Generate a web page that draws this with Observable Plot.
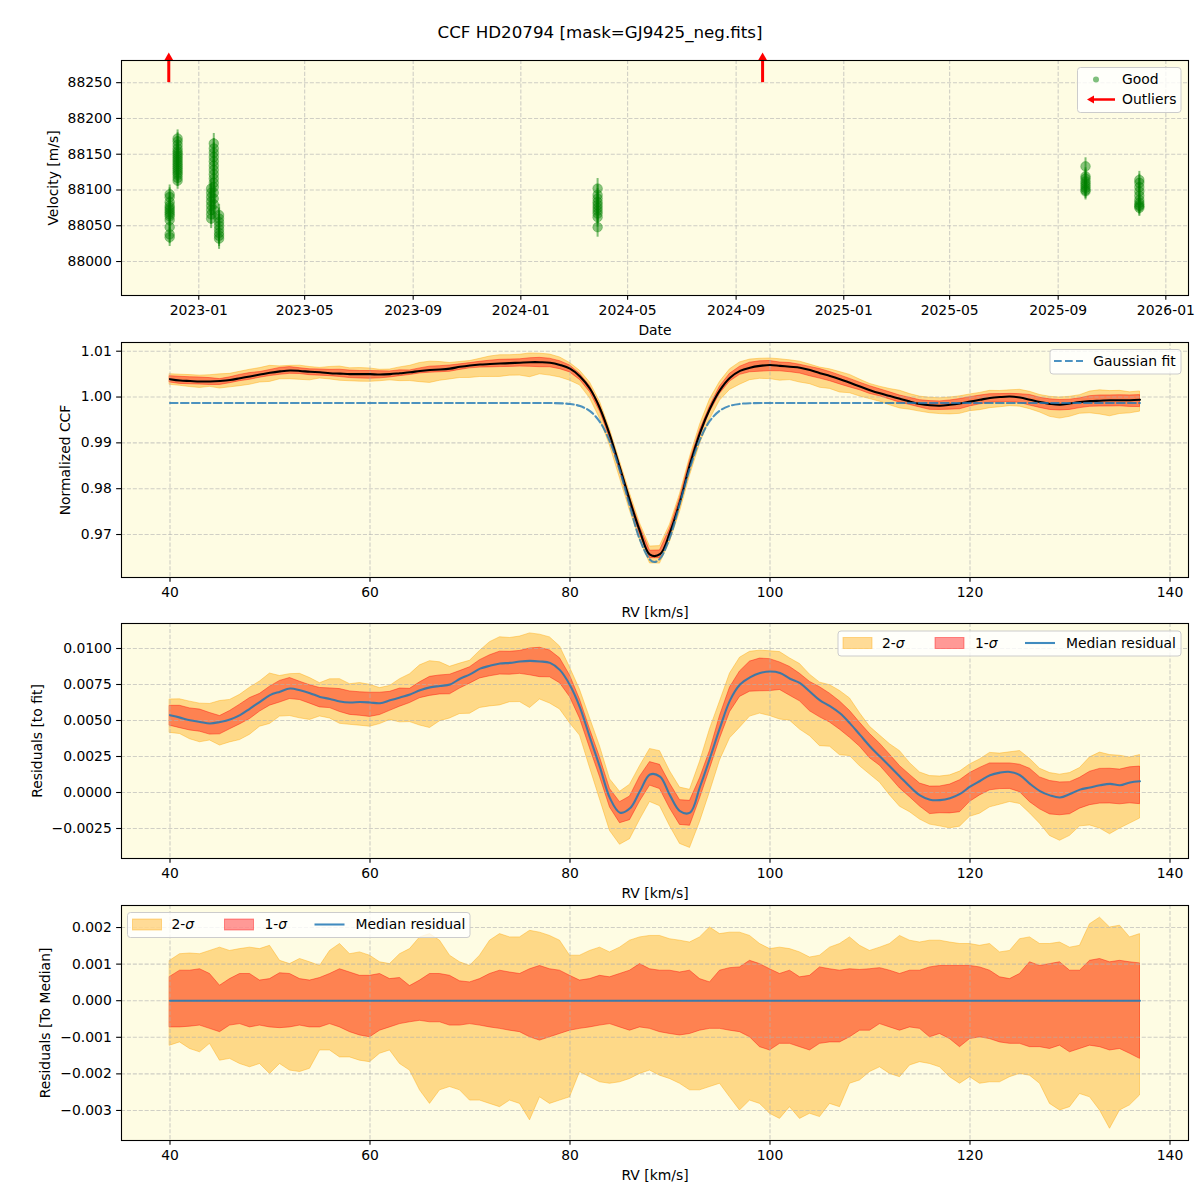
<!DOCTYPE html>
<html>
<head>
<meta charset="utf-8">
<script src="https://cdn.jsdelivr.net/npm/d3@7"></script>
<script src="https://cdn.jsdelivr.net/npm/@observablehq/plot@0.6"></script>
<style>
  body { margin: 0; background: #fff; font-family: "DejaVu Sans", sans-serif; }
  #fig { position: relative; width: 1200px; height: 1200px; overflow: hidden; }
  #fig svg { position: absolute; left: 0; }
</style>
</head>
<body>
<div id="fig"></div>
<script>
// ---------- Velocity time series ----------
const epochDates = ["2022-11-29", "2022-12-08", "2023-01-15", "2023-01-18", "2023-01-24", "2024-03-28", "2025-10-02", "2025-12-02"];
const epochVelocities = [
  [88034, 88038, 88048, 88058, 88063, 88066, 88069, 88072, 88075, 88078, 88083, 88090, 88094],
  [88113, 88117, 88121, 88124, 88127, 88130, 88133, 88136, 88139, 88142, 88145, 88148, 88151, 88154, 88158, 88163, 88168, 88172],
  [88060, 88066, 88072, 88078, 88084, 88090, 88096, 88102],
  [88072, 88080, 88088, 88096, 88104, 88110, 88116, 88122, 88128, 88134, 88140, 88146, 88152, 88158, 88165],
  [88032, 88036, 88040, 88045, 88050, 88055, 88060, 88065],
  [88048, 88062, 88067, 88071, 88075, 88079, 88083, 88088, 88093, 88102],
  [88098, 88100, 88103, 88106, 88109, 88112, 88116, 88119, 88133],
  [88075, 88077, 88079, 88082, 88086, 88092, 88098, 88104, 88110, 88114]
];
const epochErrors = [13, 12, 14, 14, 15, 14, 12, 12];
const outlierDates = ["2022-11-28", "2024-10-01"];
const outlierFloor = 88250;   // outliers lie above the plotted range

const dateTicks = ["2023-01-01", "2023-05-01", "2023-09-01", "2024-01-01", "2024-05-01", "2024-09-01", "2025-01-01", "2025-05-01", "2025-09-01", "2026-01-01"];
const velTicks = [88000, 88050, 88100, 88150, 88200, 88250];

// ---------- CCF profiles (RV grid in km/s) ----------
const rv = [40,41,42,43,44,45,46,47,48,49,50,51,52,53,54,55,56,57,58,59,60,61,62,63,64,65,66,67,68,69,70,71,72,73,74,75,76,77,78,79,80,81,82,83,84,85,86,87,88,89,90,91,92,93,94,95,96,97,98,99,100,101,102,103,104,105,106,107,108,109,110,111,112,113,114,115,116,117,118,119,120,121,122,123,124,125,126,127,128,129,130,131,132,133,134,135,136,137];

// median normalized CCF
const ccfMedian = [1.0039,1.0036,1.0035,1.0034,1.0034,1.0035,1.0037,1.0041,1.0045,1.0049,1.0053,1.0056,1.0058,1.0057,1.0055,1.0054,1.0052,1.0051,1.0050,1.0050,1.0050,1.0049,1.0050,1.0052,1.0054,1.0057,1.0059,1.0060,1.0062,1.0066,1.0069,1.0071,1.0072,1.0073,1.0074,1.0075,1.0076,1.0076,1.0075,1.0070,1.0062,1.0045,1.0018,0.9975,0.9916,0.9845,0.9773,0.9707,0.9656,0.9657,0.9705,0.9772,0.9853,0.9922,0.9975,1.0015,1.0042,1.0057,1.0064,1.0068,1.0070,1.0068,1.0066,1.0064,1.0059,1.0052,1.0046,1.0039,1.0031,1.0023,1.0015,1.0008,1.0002,0.9996,0.9990,0.9985,0.9982,0.9981,0.9983,0.9986,0.9990,0.9994,0.9998,1.0000,1.0001,0.9999,0.9994,0.9989,0.9985,0.9983,0.9986,0.9989,0.9991,0.9992,0.9993,0.9993,0.9993,0.9994];

// Gaussian fit to the median CCF
const fitRv  = [40, 70, 76, 78, 80, 81, 82, 83, 84, 85, 86, 87, 88, 88.45, 89, 90, 91, 92, 93, 94, 95, 96, 97, 98, 105, 137];
const fitCcf = [0.9987, 0.9987, 0.9987, 0.99869, 0.99849, 0.99803, 0.99691, 0.99452, 0.99023, 0.98383, 0.97607, 0.96882, 0.9645, 0.9640, 0.96474, 0.96945, 0.97686, 0.98455, 0.99075, 0.99483, 0.99706, 0.9981, 0.99851, 0.99865, 0.9987, 0.9987];

// median residual to the fit
const resMedian = [0.00537,0.0052,0.00502,0.0049,0.00479,0.0049,0.00507,0.00537,0.00583,0.0063,0.00676,0.0070,0.00722,0.0071,0.0069,0.00664,0.0065,0.00632,0.00625,0.00628,0.00625,0.0062,0.0064,0.0066,0.0068,0.0071,0.0073,0.0074,0.0075,0.0079,0.0082,0.0086,0.0088,0.00896,0.0090,0.0091,0.00914,0.0091,0.0090,0.0085,0.00745,0.0059,0.0038,0.00175,-0.0004,-0.0014,-0.0011,0.0001,0.00125,0.0011,-0.0002,-0.0013,-0.0014,0.0004,0.0024,0.0045,0.0064,0.0075,0.0080,0.0083,0.0084,0.0083,0.0079,0.0076,0.0070,0.0064,0.0060,0.0055,0.0048,0.0040,0.0032,0.0025,0.0018,0.0011,0.0004,-0.0002,-0.0005,-0.00053,-0.0004,-0.0001,0.0004,0.0008,0.0012,0.00138,0.00143,0.0012,0.0006,0.0001,-0.0002,-0.00035,-0.0001,0.0002,0.00035,0.0005,0.0006,0.0005,0.0007,0.00078];

// spread of the individual CCFs around the median, in units of 1e-3
const hi2 = [1.09,1.27,1.29,1.27,1.36,1.45,1.36,1.41,1.45,1.41,1.50,1.09,1.00,1.14,1.05,0.95,1.36,1.55,1.27,1.32,1.23,1.05,1.00,1.27,1.41,1.73,1.82,1.64,1.23,1.05,0.95,1.23,1.64,1.82,1.73,1.73,1.91,1.86,1.77,1.64,1.23,1.23,1.36,1.45,1.32,1.45,1.64,1.73,1.77,1.77,1.68,1.64,1.59,1.73,2.00,1.82,1.86,1.86,1.77,1.55,1.41,1.45,1.41,1.32,1.18,1.23,1.45,1.55,1.73,1.50,1.36,1.45,1.55,1.77,1.64,1.59,1.64,1.64,1.59,1.55,1.55,1.50,1.55,1.32,1.36,1.68,1.73,1.55,1.55,1.59,1.45,1.50,2.09,2.27,2.00,2.05,1.73,1.82];
const hi1 = [0.65,0.82,0.82,0.86,0.73,0.41,0.59,0.73,0.73,0.55,0.59,0.75,0.73,0.59,0.55,0.62,0.73,0.86,0.77,0.68,0.68,0.73,0.59,0.62,0.40,0.55,0.73,0.73,0.68,0.53,0.50,0.59,0.73,0.82,0.77,0.73,0.86,0.95,0.86,0.82,0.68,0.55,0.59,0.68,0.64,0.73,0.82,1.00,0.86,0.82,0.82,0.77,0.82,0.59,0.50,0.82,0.89,0.91,1.09,1.00,0.86,0.73,0.82,0.64,0.68,0.91,0.86,0.82,0.86,0.84,0.86,0.89,0.82,0.73,0.82,0.82,0.91,0.95,0.95,0.95,0.95,0.91,0.82,0.64,0.59,0.73,1.05,0.95,1.00,1.05,0.82,0.82,1.09,1.14,1.05,1.09,1.05,1.02];
const lo1 = [-0.73,-0.73,-0.71,-0.68,-0.77,-0.86,-0.68,-0.64,-0.73,-0.68,-0.73,-0.75,-0.73,-0.68,-0.73,-0.73,-0.64,-0.73,-0.86,-0.95,-1.00,-0.82,-0.73,-0.64,-0.59,-0.55,-0.59,-0.59,-0.68,-0.68,-0.64,-0.68,-0.73,-0.77,-0.82,-0.86,-1.00,-1.09,-1.00,-0.91,-0.82,-0.77,-0.73,-0.68,-0.64,-0.73,-0.82,-0.73,-0.77,-0.86,-0.91,-0.95,-0.91,-0.82,-0.77,-0.77,-0.82,-0.86,-1.00,-1.27,-1.36,-1.18,-1.18,-1.27,-1.36,-1.18,-1.14,-1.14,-1.00,-0.82,-0.82,-0.64,-0.73,-0.82,-0.73,-0.77,-1.00,-0.91,-1.05,-1.27,-1.05,-1.00,-1.05,-1.14,-1.18,-1.18,-1.27,-1.27,-1.32,-1.23,-1.41,-1.32,-1.23,-1.27,-1.36,-1.32,-1.45,-1.59];
const lo2 = [-1.23,-1.14,-1.32,-1.41,-1.18,-1.64,-1.59,-1.73,-1.82,-1.73,-2.00,-1.73,-1.91,-1.95,-1.86,-1.36,-1.36,-1.55,-1.55,-1.64,-1.68,-1.45,-1.36,-1.73,-1.91,-2.45,-2.82,-2.45,-2.36,-2.45,-2.73,-2.73,-2.82,-2.91,-2.73,-2.82,-3.27,-2.64,-2.82,-2.73,-2.64,-1.95,-2.09,-2.23,-2.27,-2.23,-2.14,-2.00,-1.91,-2.05,-2.14,-2.27,-2.45,-2.45,-2.36,-2.27,-2.64,-3.00,-2.73,-2.82,-3.09,-3.23,-2.91,-3.23,-3.09,-3.18,-2.82,-2.91,-2.27,-2.18,-1.95,-1.82,-2.00,-2.09,-1.77,-1.68,-1.73,-1.82,-2.09,-2.27,-2.09,-2.27,-2.23,-2.23,-2.09,-2.00,-2.05,-2.27,-2.82,-3.00,-2.91,-2.55,-2.64,-3.00,-3.50,-3.00,-2.86,-2.59];

const rvTicks = [40, 60, 80, 100, 120, 140];
const ccfTicks = [0.97, 0.98, 0.99, 1.00, 1.01];
const resTicks = [-0.0025, 0, 0.0025, 0.005, 0.0075, 0.01];
const medTicks = [-0.003, -0.002, -0.001, 0, 0.001, 0.002];

// ---------- tables ----------
const good = epochDates.flatMap((d, i) =>
  epochVelocities[i].map(v => ({date: new Date(d), v, e: epochErrors[i]})));
const outliers = outlierDates.map(d => ({date: new Date(d)}));
const rows = rv.map((r, i) => ({
  rv: r, ccf: ccfMedian[i], res: resMedian[i],
  lo2: lo2[i] * 1e-3, lo1: lo1[i] * 1e-3, hi1: hi1[i] * 1e-3, hi2: hi2[i] * 1e-3
}));
const fitRows = fitRv.map((r, i) => ({rv: r, y: fitCcf[i]}));

// ---------- styling ----------
const BG = "#fefce3";
const BLUE = "#1f77b4";
const fig = document.getElementById("fig");
const font = "DejaVu Sans, sans-serif";
const tick = {tickSize: 4.86, tickPadding: 4.86, strokeWidth: 1.1, label: null};
const grid = {stroke: "#b0b0b0", strokeOpacity: 0.6, strokeWidth: 1.1, strokeDasharray: "4.1,1.8"};
const rvDomain = [35.15, 141.85];

function addPanel(top, height, mt, mb, opts, marks) {
  const svg = Plot.plot({
    width: 1200, height, marginTop: mt, marginBottom: mb, marginLeft: 121, marginRight: 12,
    style: {fontFamily: font, fontSize: "13.9px", color: "#000", background: "transparent", overflow: "visible"},
    ...opts,
    marks
  });
  svg.style.top = top + "px";
  fig.appendChild(svg);
}
const bgMark = () => Plot.frame({fill: BG, stroke: "none"});
const frameMark = () => Plot.frame({stroke: "#000", strokeWidth: 1.1, fill: "none"});
const xLabel = (t) => Plot.text([t], {text: d => d, frameAnchor: "bottom", dy: 35, textAnchor: "middle", lineAnchor: "middle", fontSize: 13.9});
const yLabel = (t, dx) => Plot.text([t], {text: d => d, frameAnchor: "left", rotate: -90, dx, textAnchor: "middle", lineAnchor: "middle", fontSize: 13.9});
const bands = (base) => [
  Plot.areaY(rows, {x: "rv", y1: d => base(d) + d.lo2, y2: d => base(d) + d.hi2,
    fill: "orange", fillOpacity: 0.4, stroke: "orange", strokeOpacity: 0.4, strokeWidth: 1}),
  Plot.areaY(rows, {x: "rv", y1: d => base(d) + d.lo1, y2: d => base(d) + d.hi1,
    fill: "red", fillOpacity: 0.4, stroke: "red", strokeOpacity: 0.4, strokeWidth: 1})
];

// Panel 1: radial velocities
addPanel(40, 300, 20, 45, {
  x: {type: "utc", domain: [new Date("2022-10-05T10:00Z"), new Date("2026-01-26T17:00Z")]},
  y: {domain: [87952.5, 88281]}
}, [
  bgMark(),
  Plot.gridX(dateTicks.map(d => new Date(d)), grid),
  Plot.gridY(velTicks, grid),
  Plot.ruleX(good, {x: "date", y1: d => d.v - d.e, y2: d => d.v + d.e, stroke: "green", strokeOpacity: 0.5, strokeWidth: 2}),
  Plot.dot(good, {x: "date", y: "v", r: 4.8, fill: "green", fillOpacity: 0.45, stroke: "green", strokeOpacity: 0.3, strokeWidth: 1}),
  Plot.ruleX(outliers, {x: "date", y1: outlierFloor, y2: outlierFloor + 34, stroke: "red", strokeWidth: 3}),
  Plot.dot(outliers, {x: "date", y: outlierFloor + 35, symbol: "triangle", r: 3.3, fill: "red", stroke: "none"}),
  frameMark(),
  Plot.axisX(dateTicks.map(d => new Date(d)), {...tick, tickFormat: d3.utcFormat("%Y-%m")}),
  Plot.axisY(velTicks, {...tick, tickFormat: d => String(d)}),
  xLabel("Date"),
  yLabel("Velocity [m/s]", -67.7)
]);

// Panel 2: CCF profile and Gaussian fit
addPanel(340, 282, 2, 45, {
  x: {domain: rvDomain}, y: {domain: [0.96062, 1.0119]}
}, [
  bgMark(),
  ...bands(d => d.ccf),
  Plot.gridX(rvTicks, grid),
  Plot.gridY(ccfTicks, grid),
  Plot.line(rows, {x: "rv", y: "ccf", stroke: "#000", strokeWidth: 2.08, curve: "catmull-rom"}),
  Plot.line(fitRows, {x: "rv", y: "y", stroke: BLUE, strokeOpacity: 0.8, strokeWidth: 2.08, strokeDasharray: "7.7,3.3", curve: "catmull-rom"}),
  frameMark(),
  Plot.axisX(rvTicks, {...tick, tickFormat: d => String(d)}),
  Plot.axisY(ccfTicks, {...tick, tickFormat: d3.format(".2f")}),
  xLabel("RV [km/s]"),
  yLabel("Normalized CCF", -56)
]);

// Panel 3: residuals to the fit
addPanel(622, 281, 1, 45, {
  x: {domain: rvDomain}, y: {domain: [-0.004583, 0.011736]}
}, [
  bgMark(),
  ...bands(d => d.res),
  Plot.gridX(rvTicks, grid),
  Plot.gridY(resTicks, grid),
  Plot.line(rows, {x: "rv", y: "res", stroke: BLUE, strokeOpacity: 0.85, strokeWidth: 2.08, curve: "catmull-rom"}),
  frameMark(),
  Plot.axisX(rvTicks, {...tick, tickFormat: d => String(d)}),
  Plot.axisY(resTicks, {...tick, tickFormat: d3.format(".4f")}),
  xLabel("RV [km/s]"),
  yLabel("Residuals [to fit]", -84.3)
]);

// Panel 4: residuals to the median
addPanel(903, 287, 2, 50, {
  x: {domain: rvDomain}, y: {domain: [-0.003821, 0.002602]}
}, [
  bgMark(),
  ...bands(d => 0),
  Plot.gridX(rvTicks, grid),
  Plot.gridY(medTicks, grid),
  Plot.line(rows, {x: "rv", y: d => 0, stroke: BLUE, strokeOpacity: 0.85, strokeWidth: 2.08}),
  frameMark(),
  Plot.axisX(rvTicks, {...tick, tickFormat: d => String(d)}),
  Plot.axisY(medTicks, {...tick, tickFormat: d3.format(".3f")}),
  xLabel("RV [km/s]"),
  yLabel("Residuals [To Median]", -76)
]);

// ---------- title and legends ----------
const sigmaLegend = (x0, yc, boxW) => `
  <rect x="${x0}" y="${yc - 12}" width="${boxW}" height="25" rx="3" fill="#fff" fill-opacity="0.8" stroke="#cccccc"/>
  <rect x="${x0 + 5}" y="${yc - 5.5}" width="29" height="11" fill="orange" fill-opacity="0.4" stroke="orange" stroke-opacity="0.4"/>
  <text x="${x0 + 44}" y="${yc}" dy="0.35em">2-<tspan font-style="italic">σ</tspan></text>
  <rect x="${x0 + 97}" y="${yc - 5.5}" width="29" height="11" fill="red" fill-opacity="0.4" stroke="red" stroke-opacity="0.4"/>
  <text x="${x0 + 137}" y="${yc}" dy="0.35em">1-<tspan font-style="italic">σ</tspan></text>
  <line x1="${x0 + 187}" x2="${x0 + 217}" y1="${yc}" y2="${yc}" stroke="${BLUE}" stroke-opacity="0.85" stroke-width="2.08"/>
  <text x="${x0 + 228}" y="${yc}" dy="0.35em">Median residual</text>`;

const overlay = `
<svg width="1200" height="1200" style="top:0;pointer-events:none" font-family="${font}" font-size="13.9" fill="#000">
  <text x="600" y="32" dy="0.35em" text-anchor="middle" font-size="16.7">CCF HD20794 [mask=GJ9425_neg.fits]</text>

  <rect x="1077.5" y="67.5" width="103.5" height="45" rx="3" fill="#fff" fill-opacity="0.8" stroke="#cccccc"/>
  <circle cx="1096" cy="79.5" r="3" fill="green" fill-opacity="0.5"/>
  <text x="1122" y="79.5" dy="0.35em">Good</text>
  <line x1="1115" x2="1093" y1="99.5" y2="99.5" stroke="red" stroke-width="2.5"/>
  <polygon points="1087,99.5 1094,95.5 1094,103.5" fill="red"/>
  <text x="1122" y="99.5" dy="0.35em">Outliers</text>

  <rect x="1050" y="349.5" width="131" height="24.5" rx="3" fill="#fff" fill-opacity="0.8" stroke="#cccccc"/>
  <line x1="1054" x2="1083" y1="361" y2="361" stroke="${BLUE}" stroke-opacity="0.8" stroke-width="2.08" stroke-dasharray="7.7,3.3"/>
  <text x="1093.3" y="361" dy="0.35em">Gaussian fit</text>

  ${sigmaLegend(838, 643, 343)}
  ${sigmaLegend(127.5, 924.5, 342.5)}
</svg>`;
fig.insertAdjacentHTML("beforeend", overlay);
</script>
</body>
</html>
